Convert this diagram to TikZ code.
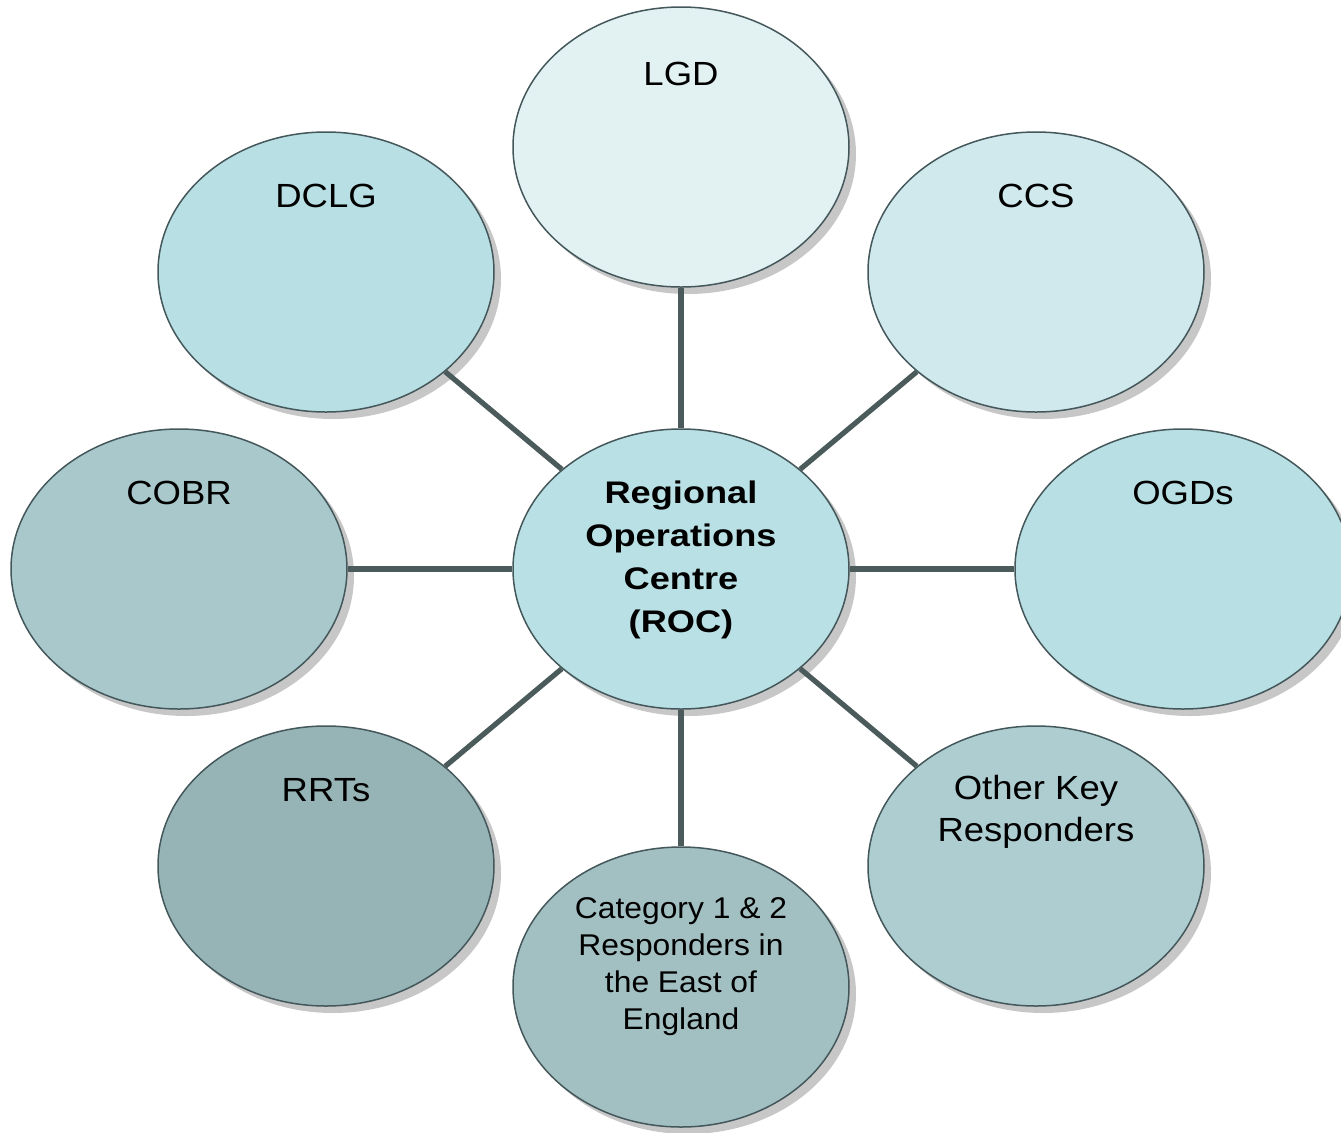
\documentclass[tikz,border=0pt]{standalone}
\usepackage{fontspec}
\setmainfont{Liberation Sans}
\newfontfamily\tagfont[FakeStretch=1.09]{Liberation Sans}
\newfontfamily\catfont[FakeStretch=1.06]{Liberation Sans}
\newfontfamily\hubfont[FakeStretch=1.16]{Liberation Sans}
\usepackage{xcolor}
\usepackage{tikz}
\usetikzlibrary{shapes.geometric,shadows}
\definecolor{rcedge}{HTML}{44575A}
\definecolor{rcwire}{HTML}{4B5B5C}
\definecolor{rchub}{HTML}{B9E0E4}
\definecolor{rclgd}{HTML}{E2F2F3}
\definecolor{rcccs}{HTML}{D0E9EC}
\definecolor{rcdclg}{HTML}{B8DFE3}
\definecolor{rcogd}{HTML}{B8DFE3}
\definecolor{rccobr}{HTML}{A8C8CB}
\definecolor{rcrrt}{HTML}{96B4B6}
\definecolor{rcokr}{HTML}{ADCDD0}
\definecolor{rccat}{HTML}{A2BFC2}
\tikzset{
  rcball/.style={ellipse, draw=rcedge, line width=0.75pt, inner sep=0pt,
    minimum width=168pt, minimum height=140pt,
    drop shadow={shadow xshift=3.5pt, shadow yshift=-3.5pt, fill=black!22, opacity=1}},
  rclink/.style={line width=2.6pt, draw=rcwire, line cap=butt},
  rctag/.style={font=\tagfont\fontsize{16.75}{21}\selectfont, align=center, inner sep=0pt},
  rccat/.style={font=\catfont\fontsize{15}{18.5}\selectfont, align=center, inner sep=0pt},
  rchubtag/.style={font=\hubfont\bfseries\fontsize{15.6}{21.5}\selectfont, align=center, inner sep=0pt},
}

\begin{document}
\begin{tikzpicture}[x=0.5pt, y=-0.5pt]
\useasboundingbox (0,0) rectangle (1341,1132);
\clip (0,0) rectangle (1341,1132);
% bubbles
\node[rcball, fill=rclgd] (lgd) at (681,147) {};
\node[rcball, fill=rcdclg] (dclg) at (326,272) {};
\node[rcball, fill=rcccs] (ccs) at (1036,272) {};
\node[rcball, fill=rccobr] (cobr) at (179,569) {};
\node[rcball, fill=rcogd] (ogd) at (1183,569) {};
\node[rcball, fill=rcrrt] (rrt) at (326,866) {};
\node[rcball, fill=rcokr] (okr) at (1036,866) {};
\node[rcball, fill=rccat] (cat) at (681,987) {};
\node[rcball, fill=rchub] (roc) at (681,569) {};
% spokes
\foreach \n in {lgd,dclg,ccs,cobr,ogd,rrt,okr,cat}
  \draw[rclink] (roc) -- (\n);
% labels
\node[rctag] (lgd-t) at (681,74) {LGD};
\node[rctag] (dclg-t) at (326,196) {DCLG};
\node[rctag] (ccs-t) at (1036,196) {CCS};
\node[rctag] (cobr-t) at (179,493) {COBR};
\node[rctag] (ogd-t) at (1183,493) {OGDs};
\node[rctag] (rrt-t) at (326,790) {RRTs};
\node[rctag] (okr-t) at (1036,812) {Other Key\\Responders};
\node[rccat] (cat-t) at (681,967) {Category 1 \& 2\\Responders in\\the East of\\England};
\node[rchubtag] (roc-t) at (681,560) {Regional\\Operations\\Centre\\(ROC)};
\end{tikzpicture}
\end{document}
